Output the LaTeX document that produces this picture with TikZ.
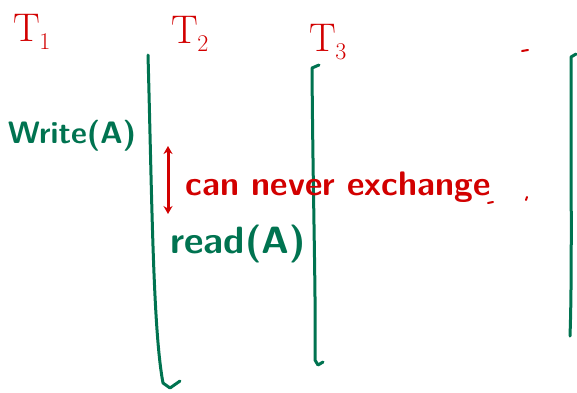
\documentclass[tikz,border=0pt]{standalone}
\usepackage{fontspec}
\usetikzlibrary{arrows.meta}

\definecolor{ink}{RGB}{0,115,80}
\definecolor{pen}{RGB}{210,0,0}

\newcommand{\tname}[1]{T\kern-1pt\raisebox{-0.2em}{\fontsize{24}{24}\selectfont #1}}

\begin{document}
\begin{tikzpicture}[x=1pt, y=-1pt, line cap=round, line join=round]
  \useasboundingbox (0,0) rectangle (577,392);
  \tikzset{
    txn/.style={pen, font=\fontsize{40}{40}\selectfont},
    op/.style={ink, font=\sffamily\bfseries\fontsize{31}{31}\selectfont},
    col/.style={ink, line width=3pt},
    remark/.style={pen, font=\sffamily\bfseries\fontsize{34}{34}\selectfont}
  }

  % 事务名
  \node[txn] (t1) at (32,32) {\tname{1}};
  \node[txn] (t2) at (190,34) {\tname{2}};
  \node[txn] (t3) at (328,42) {\tname{3}};

  % 竖线
  \draw[col] (148,55) .. controls (152,200) and (153,330) .. (163,383) -- (170,388) -- (180,381);
  \draw[col] (319,65) -- (312,68) .. controls (313,200) and (316,300) .. (315,360) -- (318,365) -- (323,362);
  \draw[col] (576,54) -- (571,57) .. controls (571,200) and (572,280) .. (570,336);

  % 操作
  \node[op] (wr) at (72,136) {Write(A)};
  \node[op, font=\sffamily\bfseries\fontsize{38}{38}\selectfont] (rd) at (238,244) {read(A)};

  % 不可交换
  \coordinate (up) at (168,146);
  \coordinate (dn) at (168,214);
  \draw[pen, line width=3pt, {Stealth[length=8pt,width=9pt]}-{Stealth[length=8pt,width=9pt]}] (up) -- (dn);
  \node[remark, anchor=base west] (note) at (182,195) {can never exchange};

  % 零散笔迹
  \draw[pen, line width=2pt] (522,51) -- (528,50);
  \draw[pen, line width=2pt] (488,203) -- (493,202);
  \draw[pen, line width=2pt] (527,197) -- (526,200);
\end{tikzpicture}
\end{document}
